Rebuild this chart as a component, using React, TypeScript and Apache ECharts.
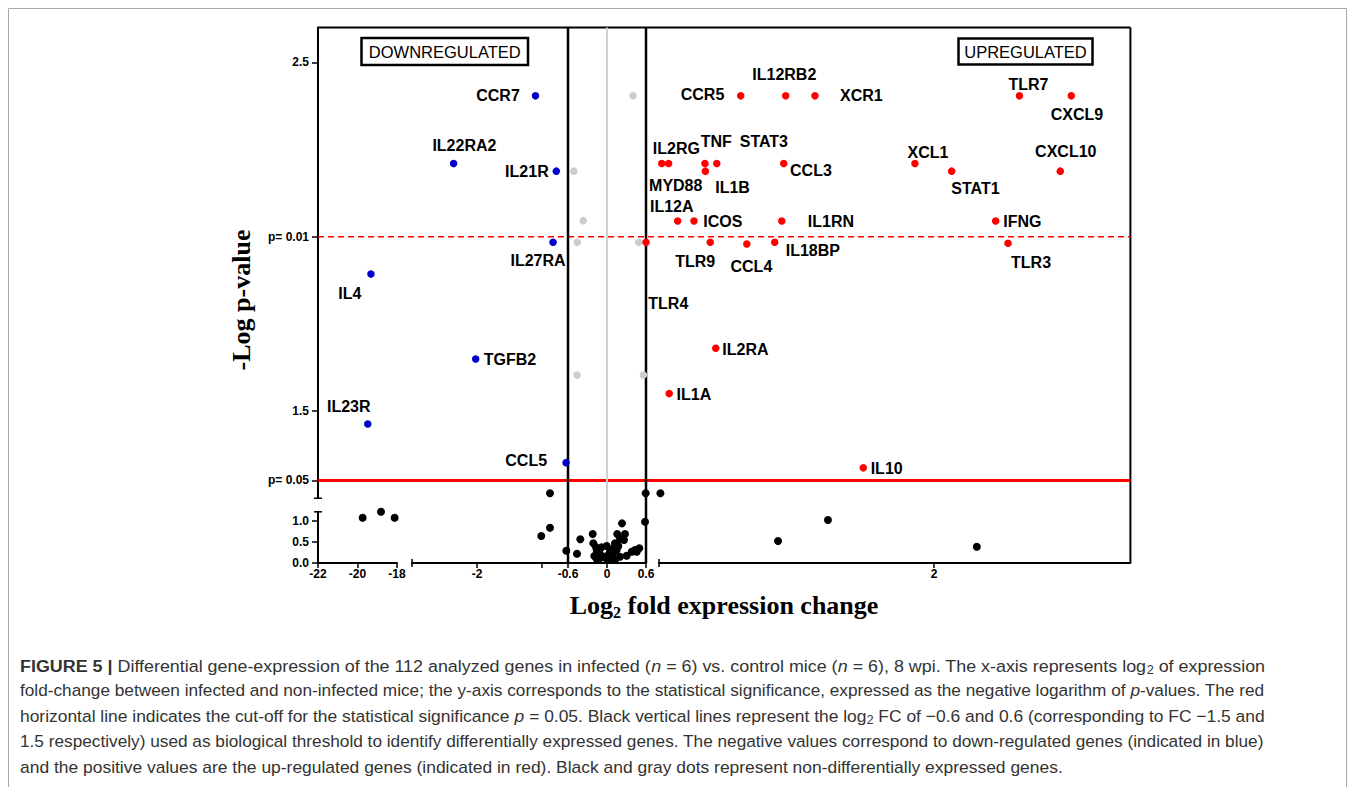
import React, { useEffect, useRef } from 'react';
import * as echarts from 'echarts';

// ---------------- data ----------------
const downNames = ['CCR7', 'IL22RA2', 'IL21R', 'IL27RA', 'IL4', 'TGFB2', 'IL23R', 'CCL5'];
const downLog2FC = [-1.1, -2.36, -0.78, -0.83, -19.32, -2.02, -19.48, -0.63];
const downNegLogP = [2.404, 2.21, 2.188, 1.984, 1.893, 1.649, 1.463, 1.352];

const upNames = ['CCR5', 'IL12RB2', 'XCR1', 'IL2RG', 'MYD88', 'TNF', 'STAT3', 'IL1B', 'CCL3', 'XCL1', 'STAT1', 'IL12A', 'ICOS', 'IL1RN', 'TLR4', 'TLR9', 'CCL4', 'IL18BP', 'IL2RA', 'IL1A', 'IL10', 'TLR7', 'CXCL9', 'CXCL10', 'IFNG', 'TLR3'];
const upLog2FC = [1.016, 1.245, 1.394, 0.614, 0.649, 0.834, 0.894, 0.836, 1.235, 1.903, 2.09, 0.695, 0.778, 1.225, 0.6, 0.861, 1.047, 1.189, 0.889, 0.652, 1.64, 2.435, 2.699, 2.643, 2.314, 2.377];
const upNegLogP = [2.404, 2.404, 2.404, 2.21, 2.21, 2.21, 2.21, 2.188, 2.21, 2.21, 2.188, 2.045, 2.045, 2.045, 1.984, 1.984, 1.979, 1.984, 1.68, 1.55, 1.337, 2.404, 2.404, 2.188, 2.045, 1.981];

const grayLog2FC = [0.4, -0.51, -0.365, -0.457, 0.487, -0.46, 0.56];
const grayNegLogP = [2.404, 2.188, 2.046, 1.984, 1.984, 1.603, 1.603];

const blackLog2FC = [
  -19.74, -18.81, -18.12,
  -0.877, 0.595, 0.607, 0.585, -0.877, -1.011, 0.231, -0.22, -0.411, 0.158, 0.277, 0.2,
  -0.626, -0.462, -0.211, -0.082, 0.123, 0.097, 0.046, -0.195, -0.118, -0.046, 0.123,
  0.303, 0.431, 0.497, 0.457, 0.149, 0.02, -0.158, 0.005,
  -0.169, -0.005, 0.174, 0.088, -0.108, 0.2, 0.262, -0.158, 0.046, 0.38,
  1.206, 1.46, 2.218,
];
const blackNegLogP = [
  1.079, 1.221, 1.079,
  1.264, 1.264, 1.264, 0.983, 0.84, 0.643, 0.945, 0.69, 0.564, 0.69, 0.69, 0.571,
  0.293, 0.221, 0.469, 0.374, 0.469, 0.35, 0.269, 0.167, 0.102, 0.15, 0.071,
  0.174, 0.31, 0.35, 0.269, 0.31, 0.19, 0.31, 0.071,
  0.374, 0.405, 0.405, 0.207, 0.214, 0.15, 0.548, 0.088, 0.088, 0.269,
  0.524, 1.024, 0.388,
];

// broken-axis segments
const xSegMin = [-22, -3, 0.6];
const xSegMax = [-18, 0.6, 3];
const ySegMin = [1.25, 0]; // upper, lower
const ySegMax = [2.6, 1.22];

const xTickValues = [[-22, -20, -18], [-2, -1, -0.6, 0, 0.6], [2]];
const xTickLabels = [['-22', '-20', '-18'], ['-2', '', '-0.6', '0', '0.6'], ['2']];
const yTickValues = [[1.301, 1.5, 2, 2.5], [0, 0.5, 1]];
const yTickLabels = [['p= 0.05', '1.5', 'p= 0.01', '2.5'], ['0.0', '0.5', '1.0']];

const pCut05 = 1.301;
const pCut01 = 2;
const fcCut = 0.6;

// ---------------- layout / style ----------------
const X_PIX = [[318, 397], [412, 646], [659, 1130.4]];
const Y_PIX = [[27.5, 498.2], [511.8, 563]];

const SANS = '"Liberation Sans", Arial, Helvetica, sans-serif';
const SERIF = '"Liberation Serif", "Times New Roman", Times, serif';
const BLUE = '#0000c8';
const RED = '#ff0000';
const GRAY = '#cccccc';

// label placement: [align, dx, dy] relative to the dot centre
const labelPlacement: Record<string, [string, number, number]> = {
  CCR7: ['right', -15.7, 0],
  IL22RA2: ['center', 10.8, -17.5],
  IL21R: ['right', -7.6, 0],
  IL27RA: ['center', -15, 18],
  IL4: ['center', -21, 19],
  TGFB2: ['left', 8, 0],
  IL23R: ['center', -19, -17.5],
  CCL5: ['right', -19, -2],
  IL12RB2: ['center', -1.4, -21],
  CCR5: ['right', -16.4, -1],
  XCR1: ['left', 25, 0],
  IL2RG: ['center', 14.6, -15],
  MYD88: ['center', 7.1, 21.7],
  TNF: ['center', 11.3, -22.3],
  STAT3: ['center', 47.1, -22.3],
  IL1B: ['center', 27.2, 16],
  CCL3: ['left', 6.3, 6.7],
  XCL1: ['center', 13, -11.3],
  IL12A: ['center', -5.9, -15],
  ICOS: ['left', 9.3, 0],
  IL1RN: ['left', 26, 0.8],
  TLR9: ['center', -15.1, 19.4],
  CCL4: ['center', 4.6, 22.7],
  IL18BP: ['left', 11, 8.5],
  TLR4: ['left', 2.3, 61.4],
  IL2RA: ['left', 6.6, 0.9],
  IL1A: ['left', 7.4, 0.8],
  IL10: ['left', 7.4, 0.8],
  TLR7: ['center', 9, -11.5],
  CXCL9: ['center', 5.7, 18.8],
  CXCL10: ['center', 5.5, -19.3],
  STAT1: ['center', 23.8, 17.7],
  IFNG: ['left', 7.6, 0.7],
  TLR3: ['center', 23, 18.7],
};

const captionLines: [string, string][][] = [
  [['b', 'FIGURE 5 | '], ['r', 'Differential gene-expression of the 112 analyzed genes in infected ('], ['i', 'n'], ['r', ' = 6) vs. control mice ('], ['i', 'n'], ['r', ' = 6), 8 wpi. The x-axis represents log'], ['s', '2'], ['r', ' of expression']],
  [['r', 'fold-change between infected and non-infected mice; the y-axis corresponds to the statistical significance, expressed as the negative logarithm of '], ['i', 'p'], ['r', '-values. The red']],
  [['r', 'horizontal line indicates the cut-off for the statistical significance '], ['i', 'p'], ['r', ' = 0.05. Black vertical lines represent the log'], ['s', '2'], ['r', ' FC of \u22120.6 and 0.6 (corresponding to FC \u22121.5 and']],
  [['r', '1.5 respectively) used as biological threshold to identify differentially expressed genes. The negative values correspond to down-regulated genes (indicated in blue)']],
  [['r', 'and the positive values are the up-regulated genes (indicated in red). Black and gray dots represent non-differentially expressed genes.']],
];
const CAP_SIZE = 17;
const CAP_SUB = 12;
const CAP_COLOR = '#333333';

function lookup(vals: number[], labels: string[], v: number) {
  const i = vals.findIndex((t) => Math.abs(t - v) < 1e-6);
  return i >= 0 ? labels[i] : '';
}

function gridOf(x: number, y: number) {
  const col = x <= xSegMax[0] ? 0 : x <= xSegMax[1] ? 1 : 2;
  const row = y >= ySegMin[0] - 0.02 ? 0 : 1;
  return row * 3 + col;
}

function buildSeries(names: string[] | null, xs: number[], ys: number[], color: string, size: number, key: string) {
  const buckets: any[][] = Array.from({ length: 6 }, () => []);
  xs.forEach((x, i) => {
    const y = ys[i];
    const item: any = { value: [x, y] };
    if (names) {
      const name = names[i];
      item.name = name;
      const pl = labelPlacement[name];
      if (pl) {
        item.label = {
          show: true,
          formatter: name,
          position: 'inside',
          align: pl[0],
          verticalAlign: 'middle',
          offset: [pl[1], pl[2]],
          color: '#000',
          fontWeight: 'bold',
          fontSize: 16,
          fontFamily: SANS,
          textBorderWidth: 0,
        };
      }
    }
    buckets[gridOf(x, y)].push(item);
  });
  const out: any[] = [];
  buckets.forEach((data, g) => {
    if (!data.length) return;
    out.push({
      type: 'scatter',
      name: key + g,
      xAxisIndex: g,
      yAxisIndex: g,
      symbol: 'circle',
      symbolSize: size,
      itemStyle: { color, opacity: 1 },
      label: { show: false },
      clip: false,
      silent: true,
      z: 3,
      data,
    });
  });
  return out;
}

function buildOption() {
  const grids: any[] = [];
  const xAxes: any[] = [];
  const yAxes: any[] = [];
  const tickFont = { color: '#000', fontWeight: 'bold', fontSize: 12, fontFamily: SANS };
  for (let g = 0; g < 6; g++) {
    const row = Math.floor(g / 3);
    const col = g % 3;
    grids.push({
      left: X_PIX[col][0],
      top: Y_PIX[row][0],
      width: X_PIX[col][1] - X_PIX[col][0],
      height: Y_PIX[row][1] - Y_PIX[row][0],
      containLabel: false,
      outerBoundsMode: 'none',
    });
    xAxes.push({
      type: 'value',
      gridIndex: g,
      min: xSegMin[col],
      max: xSegMax[col],
      show: row === 1,
      axisLine: { show: true, onZero: false, lineStyle: { color: '#000', width: 2 } },
      axisTick: { show: true, customValues: xTickValues[col], length: 5, lineStyle: { color: '#000', width: 1.5 } },
      axisLabel: {
        show: true,
        customValues: xTickValues[col].filter((_, i) => xTickLabels[col][i] !== ''),
        formatter: (v: number) => lookup(xTickValues[col], xTickLabels[col], v),
        margin: 5,
        ...tickFont,
      },
      splitLine: { show: false },
    });
    yAxes.push({
      type: 'value',
      gridIndex: g,
      min: ySegMin[row],
      max: ySegMax[row],
      show: col === 0,
      axisLine: { show: true, onZero: false, lineStyle: { color: '#000', width: 2 } },
      axisTick: { show: true, customValues: yTickValues[row], length: 6, lineStyle: { color: '#000', width: 1.5 } },
      axisLabel: {
        show: true,
        customValues: yTickValues[row],
        formatter: (v: number) => lookup(yTickValues[row], yTickLabels[row], v),
        margin: 9,
        ...tickFont,
      },
      splitLine: { show: false },
    });
  }
  const series = [
    ...buildSeries(null, blackLog2FC, blackNegLogP, '#000', 8, 'ns'),
    ...buildSeries(null, grayLog2FC, grayNegLogP, GRAY, 7.5, 'gray'),
    ...buildSeries(downNames, downLog2FC, downNegLogP, BLUE, 7.5, 'down'),
    ...buildSeries(upNames, upLog2FC, upNegLogP, RED, 7.5, 'up'),
  ];
  return {
    animation: false,
    backgroundColor: '#ffffff',
    grid: grids,
    xAxis: xAxes,
    yAxis: yAxes,
    series,
  };
}

function capFont(s: string) {
  if (s === 'b') return `bold ${CAP_SIZE}px ${SANS}`;
  if (s === 'i') return `italic ${CAP_SIZE}px ${SANS}`;
  if (s === 's') return `${CAP_SUB}px ${SANS}`;
  return `${CAP_SIZE}px ${SANS}`;
}

function measure(segs: [string, string][]) {
  const ctx = document.createElement('canvas').getContext('2d');
  if (!ctx) return 1;
  let w = 0;
  segs.forEach(([s, t]) => {
    ctx.font = capFont(s);
    w += ctx.measureText(t).width;
  });
  return w;
}

function buildGraphics(chart: any) {
  const P = (g: number, x: number, y: number) => chart.convertToPixel({ gridIndex: g }, [x, y]) as number[];
  const plotTop = P(0, xSegMin[0], ySegMax[0])[1];
  const plotLeft = P(0, xSegMin[0], ySegMax[0])[0];
  const plotRight = P(2, xSegMax[2], ySegMax[0])[0];
  const plotBottom = P(3, xSegMin[0], ySegMin[1])[1];
  const line = (x1: number, y1: number, x2: number, y2: number, stroke: string, lineWidth: number, dash?: number[], z = 1) => ({
    type: 'line',
    silent: true,
    z,
    shape: { x1, y1, x2, y2 },
    style: { stroke, lineWidth, lineDash: dash || null },
  });
  const els: any[] = [];
  // outer figure frame
  els.push({ type: 'rect', silent: true, z: 0, shape: { x: 8.5, y: 8.5, width: 1338, height: 800 }, style: { fill: 'none', stroke: '#a8a8a8', lineWidth: 1 } });
  // plot frame (top, right)
  els.push(line(plotLeft, plotTop, plotRight, plotTop, '#000', 2));
  els.push(line(plotRight, plotTop, plotRight, plotBottom, '#000', 2));
  // thresholds
  const y01 = P(0, xSegMin[0], pCut01)[1];
  const y05 = P(0, xSegMin[0], pCut05)[1];
  els.push(line(plotLeft, y01, plotRight, y01, RED, 1.5, [6, 4]));
  els.push(line(plotLeft, y05, plotRight, y05, RED, 3));
  const x0 = P(1, 0, 2)[0];
  els.push(line(x0, plotTop, x0, plotBottom, '#cfcfcf', 2));
  [-fcCut, fcCut].forEach((v) => {
    const xv = P(1, v, 2)[0];
    els.push(line(xv, plotTop, xv, plotBottom, '#000', 2.5));
  });
  // axis break marks
  const yb1 = P(0, xSegMin[0], ySegMin[0]);
  const yb2 = P(3, xSegMin[0], ySegMax[1]);
  els.push(line(yb1[0] - 4, yb1[1], yb1[0] + 4, yb1[1], '#000', 1.5));
  els.push(line(yb2[0] - 4, yb2[1], yb2[0] + 4, yb2[1], '#000', 1.5));
  const xb1 = P(4, xSegMin[1], 0);
  const xb2 = P(5, xSegMin[2], 0);
  els.push(line(xb1[0], xb1[1] - 4, xb1[0], xb1[1] + 4, '#000', 1.5));
  els.push(line(xb2[0], xb2[1] - 4, xb2[0], xb2[1] + 4, '#000', 1.5));

  // region boxes
  const box = (x: number, y: number, w: number, h: number, text: string) => ({
    type: 'group',
    z: 5,
    children: [
      { type: 'rect', shape: { x, y, width: w, height: h }, style: { fill: '#fff', stroke: '#000', lineWidth: 2.5 } },
      { type: 'text', x: x + w / 2, y: y + h / 2 + 0.5, style: { text, align: 'center', verticalAlign: 'middle', fontSize: 16.5, fontFamily: SANS, fill: '#000' } },
    ],
  });
  els.push(box(361.5, 38, 166.5, 27, 'DOWNREGULATED'));
  els.push(box(958.5, 38.5, 134, 26, 'UPREGULATED'));

  // axis titles
  els.push({
    type: 'text', x: 241, y: 300, rotation: Math.PI / 2, z: 5,
    style: { text: '-Log p-value', align: 'center', verticalAlign: 'middle', fontSize: 26, fontWeight: 'bold', fontFamily: SERIF, fill: '#000' },
  });
  els.push({
    type: 'text', x: 724, y: 605, z: 5,
    style: {
      text: '{a|Log}{s|2}{a| fold expression change}',
      align: 'center', verticalAlign: 'middle',
      rich: {
        a: { fontSize: 26, fontWeight: 'bold', fontFamily: SERIF, fill: '#000', lineHeight: 30 },
        s: { fontSize: 16, fontWeight: 'bold', fontFamily: SERIF, fill: '#000', lineHeight: 16, verticalAlign: 'bottom' },
      },
    },
  });

  // caption
  const lineY = [666, 691, 716.5, 742, 767];
  const target = 1245;
  const scales = captionLines.map((segs) => target / measure(segs));
  const avg = (scales[0] + scales[1] + scales[2] + scales[3]) / 4;
  const rich = {
    r: { fontSize: CAP_SIZE, fontFamily: SANS, fill: CAP_COLOR, lineHeight: 20 },
    b: { fontSize: CAP_SIZE, fontFamily: SANS, fontWeight: 'bold', fill: CAP_COLOR, lineHeight: 20 },
    i: { fontSize: CAP_SIZE, fontFamily: SANS, fontStyle: 'italic', fill: CAP_COLOR, lineHeight: 20 },
    s: { fontSize: CAP_SUB, fontFamily: SANS, fill: CAP_COLOR, lineHeight: 12, verticalAlign: 'bottom' },
  };
  captionLines.forEach((segs, k) => {
    els.push({
      type: 'text', x: 20, y: lineY[k], z: 5,
      scaleX: k < 4 ? scales[k] : avg,
      style: {
        text: segs.map(([s, t]) => `{${s}|${t}}`).join(''),
        align: 'left', verticalAlign: 'middle', rich,
      },
    });
  });
  return els;
}

export default function App() {
  const ref = useRef<HTMLDivElement>(null);
  useEffect(() => {
    if (!ref.current) return;
    const chart = echarts.init(ref.current, null, { renderer: 'svg' });
    chart.setOption(buildOption());
    chart.setOption({ graphic: buildGraphics(chart) });
    return () => chart.dispose();
  }, []);
  return <div ref={ref} style={{ position: 'absolute', left: 0, top: 0, width: 1355, height: 787 }} />;
}
